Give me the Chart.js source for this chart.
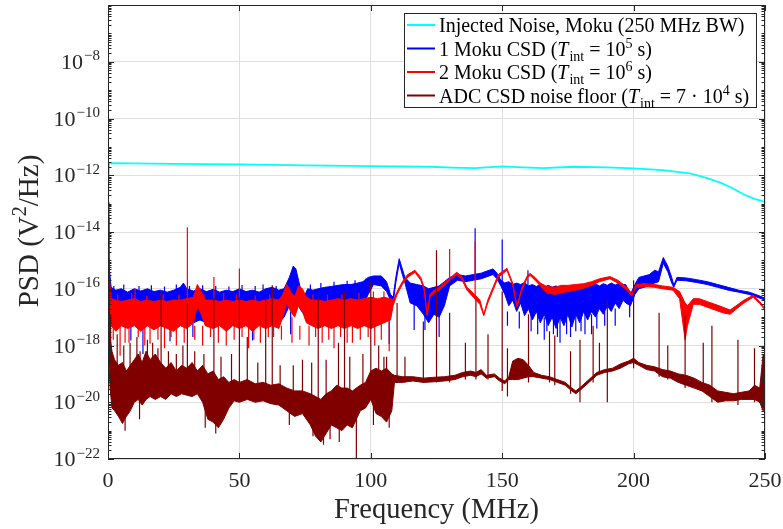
<!DOCTYPE html>
<html><head><meta charset="utf-8">
<script src="https://cdn.jsdelivr.net/npm/chart.js@4.4.1/dist/chart.umd.min.js"></script>
<style>html,body{margin:0;padding:0;background:#fff}#wrap{width:783px;height:529px;position:relative}</style>
</head><body><div id="wrap"><canvas id="c"></canvas></div>
<script>
// ---------- axis ticks ----------
const xTickValues = [0, 50, 100, 150, 200, 250];
const yGridExps = [-22, -20, -18, -16, -14, -12, -10, -8, -6];
const yLabelExps = [-22, -20, -18, -16, -14, -12, -10, -8];

// ---------- series names ----------
const seriesNames = [
  'Injected Noise, Moku (250 MHz BW)',
  '1 Moku CSD (*T*_{int} = 10^{5} s)',
  '2 Moku CSD (*T*_{int} = 10^{6} s)',
  'ADC CSD noise floor (*T*_{int} = 7 \u00b7 10^{4} s)'
];

// All PSD values below are log10(PSD / (V^2/Hz)).
// ---------- Injected noise (cyan) ----------
const cyanFreq = [0, 0.4, 25, 50, 75, 100, 122.5, 131, 139.6, 149.8, 158, 165.6, 177, 190, 200, 211, 221.5, 228, 233, 237.5, 241.6, 246, 250];
const cyanLog  = [-12.95, -11.57, -11.60, -11.62, -11.65, -11.68, -11.70, -11.73, -11.75, -11.69, -11.72, -11.75, -11.70, -11.72, -11.76, -11.82, -11.93, -12.10, -12.26, -12.45, -12.66, -12.83, -12.94];

// ---------- 1 Moku CSD (blue): upper / lower envelope of the noisy trace ----------
const blueFreq = [0,0.5,1.2,3,5,7.5,10,12.5,15,17.5,20,22.5,25,27.5,28.7,30,32.5,35,37.5,40,42.5,45,47.5,50,52.5,55,57.5,60,62.5,65,67,69,70.5,71.5,73,74.5,76,78,80,82.5,85,87.5,90,92.5,95,97,99,101,104,106,107.5,108.5,109.5,110.8,112,113,115,117.5,120,122,124,126,128,130,133,136,139,142,145,146.5,148,149.5,
  151,152.5,154,155.5,157,158.5,160,161.5,163,164.5,166,167.5,169,170.5,172,173.5,175,176.5,178,179.5,181,182.5,184,185.5,187,188.5,190,191.5,193,194.5,196,197,
  198.8,200.5,202,204,206,208,209.5,211.3,213,214.5,215.3,216.5,220,224,228,232,236,240,244,247,250];
const blueHiLog = [-14.4,-15.3,-15.95,-16.05,-16.0,-16.12,-16.0,-16.08,-16.0,-16.1,-16.05,-16.12,-16.05,-15.95,-15.8,-16.0,-16.08,-16.0,-16.1,-16.02,-16.12,-16.05,-16.1,-16.0,-16.1,-16.05,-16.12,-16.0,-15.95,-16.05,-16.0,-15.6,-15.2,-15.3,-15.9,-16.3,-16.0,-16.05,-16.0,-15.95,-15.92,-15.88,-15.85,-15.85,-15.8,-15.75,-15.6,-15.55,-15.55,-15.75,-16.2,-16.3,-15.6,-14.94,-15.3,-15.6,-15.8,-15.85,-15.9,-16.0,-15.95,-15.9,-15.75,-15.6,-15.5,-15.55,-15.5,-15.45,-15.35,-15.3,-15.45,-15.7,
  -15.8,-15.75,-15.85,-15.8,-15.85,-15.78,-15.9,-15.85,-15.92,-15.85,-15.95,-15.88,-15.95,-15.9,-15.97,-15.9,-15.95,-15.88,-15.93,-15.86,-15.92,-15.85,-15.9,-15.83,-15.9,-15.82,-15.88,-15.8,-15.87,-15.8,-15.85,-15.85,
  -16.2,-15.85,-15.6,-15.55,-15.5,-15.35,-15.4,-14.9,-15.2,-15.6,-15.88,-15.6,-15.62,-15.68,-15.75,-15.85,-15.95,-16.05,-16.12,-16.22,-16.33];
const blueLoLog = [-14.6,-16.6,-17.0,-17.1,-17.2,-17.0,-17.2,-17.1,-17.3,-17.1,-17.2,-17.1,-17.2,-17.0,-16.9,-17.1,-17.2,-17.1,-17.2,-17.0,-17.2,-17.1,-17.2,-17.1,-17.2,-17.0,-17.2,-17.1,-17.0,-17.2,-17.0,-16.6,-16.2,-16.3,-16.7,-16.9,-17.0,-17.1,-17.2,-17.0,-17.1,-17.0,-17.1,-17.0,-16.9,-16.6,-16.2,-15.85,-15.9,-16.1,-16.4,-16.5,-15.8,-15.1,-15.5,-15.8,-16.5,-16.6,-16.9,-17.2,-16.9,-17.0,-16.6,-15.9,-15.7,-15.75,-15.7,-15.65,-15.55,-15.5,-15.65,-15.9,
  -16.2,-16.6,-16.4,-16.8,-16.5,-16.95,-16.7,-17.1,-16.8,-17.2,-16.9,-17.3,-17.0,-17.4,-17.0,-17.3,-16.9,-17.35,-16.9,-17.2,-16.8,-17.1,-16.8,-17.0,-16.7,-16.9,-16.6,-16.8,-16.5,-16.7,-16.4,-16.5,
  -16.6,-16.2,-16.0,-15.95,-15.9,-15.8,-15.75,-15.1,-15.4,-15.8,-15.95,-15.7,-15.72,-15.78,-15.85,-15.95,-16.05,-16.12,-16.2,-16.3,-16.4];
const blueSpikeFreq = [2.2, 6, 8.7, 11.8, 13.3, 16.5, 21.5, 23.6, 26, 31, 32.3, 36, 41, 46, 51, 55, 56, 59, 64, 69.5, 77, 81, 86, 91, 94, 98,
  107, 116.5, 120.6, 126, 139.7, 150, 152, 156.5, 159.8, 161, 163.5, 166, 167, 169.5, 171, 172, 174.5, 176, 178, 180, 181.5, 184, 186, 189, 193, 198.5];
const blueSpikeLo   = [-16.2, -16.2, -17.82, -16.2, -18.3, -16.2, -16.2, -17.85, -16.2, -16.2, -17.7, -16.2, -16.2, -16.2, -16.2, -17.82, -16.2, -16.2, -16.2, -17.6, -16.2, -16.2, -16.1, -16.1, -16.1, -16.0,
  -17.95, -17.45, -17.45, -17.7, -15.6, -15.8, -17.3, -17.4, -16.0, -17.5, -17.6, -17.8, -17.5, -17.6, -17.7, -17.9, -17.6, -17.7, -17.5, -17.5, -17.6, -17.6, -17.4, -17.3, -17.3, -17.0];
const blueSpikeHi   = [-15.9, -15.85, -17.0, -15.9, -17.0, -15.88, -15.92, -17.0, -15.85, -15.9, -17.0, -15.88, -15.9, -15.92, -15.87, -17.0, -15.9, -15.85, -15.9, -16.8, -15.85, -15.8, -15.75, -15.72, -15.7, -15.65,
  -16.5, -16.5, -16.9, -16.9, -13.87, -14.26, -16.8, -16.8, -15.35, -16.8, -16.9, -17.0, -16.9, -17.0, -16.9, -17.0, -16.9, -17.0, -16.9, -16.9, -16.8, -16.9, -16.8, -16.8, -16.7, -16.5];

// ---------- 2 Moku CSD (red) ----------
const redFreq = [0,0.4,1.2,3,5,7.5,10,12.5,15,17.5,20,22.5,25,27.5,30,32.5,34,35.5,37,40,42.5,45,47.5,50,52.5,55,57.5,60,62.5,65,66.5,68,69.5,71,72.5,74,75.5,77.5,80,82.5,85,87.5,90,92.5,95,97.5,100,102.5,105,107.5,108.5,110,112,114,116.8,119,120.3,121.4,122.5,124,126,128.5,131,132.7,134.5,136.6,139,141.5,143,144.5,146.5,148.5,151.8,154,155.6,157.5,159.5,160.6,162.5,164.5,167,170,172.5,175,178,181,184,187,191,194,197.5,199.3,201,204,208,211,215,217.5,219.6,220.5,222.7,225,228,231,234,236.7,239,242,245.5,248,250];
const redHiLog = [-13.3,-15.5,-16.35,-16.4,-16.45,-16.4,-16.35,-16.45,-16.4,-16.45,-16.4,-16.45,-16.4,-16.4,-16.35,-16.3,-15.85,-16.1,-16.4,-16.4,-16.45,-16.4,-16.45,-16.4,-16.45,-16.4,-16.45,-16.4,-16.35,-16.4,-16.2,-15.85,-16.1,-16.3,-15.9,-16.0,-16.3,-16.4,-16.4,-16.45,-16.4,-16.35,-16.4,-16.35,-16.4,-16.35,-16.3,-16.35,-16.3,-16.35,-16.4,-16.1,-15.75,-15.5,-15.35,-15.6,-15.95,-16.9,-16.2,-16.05,-15.95,-15.75,-15.55,-15.42,-15.55,-15.95,-16.15,-16.4,-16.9,-16.4,-15.95,-15.5,-15.28,-15.8,-16.6,-15.95,-15.55,-15.46,-15.6,-15.8,-15.92,-15.95,-15.88,-15.88,-15.85,-15.82,-15.75,-15.65,-15.57,-15.7,-15.95,-16.17,-15.85,-15.82,-15.85,-15.9,-15.95,-16.1,-16.5,-16.6,-16.35,-16.35,-16.45,-16.55,-16.65,-16.75,-16.6,-16.4,-16.23,-16.45,-16.7];
const redLoLog = [-14.5,-17.0,-17.3,-17.5,-17.3,-17.4,-17.3,-17.5,-17.3,-17.45,-17.3,-17.4,-17.5,-17.3,-17.4,-17.2,-16.6,-16.9,-17.3,-17.4,-17.3,-17.5,-17.3,-17.4,-17.3,-17.5,-17.3,-17.4,-17.3,-17.4,-17.0,-16.5,-16.8,-17.0,-16.6,-16.8,-17.2,-17.3,-17.4,-17.3,-17.4,-17.3,-17.4,-17.3,-17.4,-17.3,-17.4,-17.3,-17.2,-17.1,-16.6,-16.2,-15.85,-15.6,-15.42,-15.7,-16.05,-16.95,-16.3,-16.15,-16.05,-15.85,-15.62,-15.5,-15.65,-16.05,-16.3,-16.55,-16.95,-16.5,-16.05,-15.6,-15.35,-15.88,-16.65,-16.05,-15.62,-15.53,-15.7,-15.9,-16.15,-16.2,-16.15,-16.1,-16.05,-15.98,-15.88,-15.75,-15.65,-15.8,-16.05,-16.25,-15.95,-15.92,-15.95,-16.0,-16.05,-16.35,-17.8,-17.3,-16.55,-16.55,-16.65,-16.75,-16.85,-16.9,-16.72,-16.5,-16.3,-16.52,-16.75];
const redSpikeFreq = [2, 3.7, 4.6, 6.5, 8, 9, 10.3, 11.5, 14, 14.8, 16, 19, 21, 21.5, 24, 26, 27, 29, 30.2, 33, 36, 36.5, 39, 40.3, 42, 44, 45, 48, 48.8, 50, 51, 53.5, 55.5, 56, 58, 61, 61.5, 63, 66, 67, 70, 73, 76.5, 78, 79, 81.5, 83.5, 84, 86, 88.5, 89, 91, 93, 95.5, 96, 99, 101, 101.5, 104, 105, 107, 130, 139.7];
const redSpikeLo   = [-17.8, -16.5, -18.36, -17.9, -17.9, -16.5, -16.4, -17.7, -18.0, -16.5, -17.94, -17.8, -16.5, -18.1, -17.7, -18.0, -16.5, -17.9, -16.4, -17.8, -18.0, -16.5, -17.7, -16.4, -17.9, -16.5, -18.0, -17.8, -16.5, -16.4, -17.7, -18.1, -17.8, -16.5, -17.9, -17.7, -16.5, -17.7, -17.8, -16.5, -17.9, -17.8, -18.0, -16.5, -17.7, -17.9, -16.5, -17.8, -18.1, -17.7, -16.5, -17.9, -17.9, -16.5, -17.8, -17.7, -16.5, -18.0, -17.8, -16.5, -18.2, -15.6, -16.3];
const redSpikeHi   = [-17.3, -16.2, -17.3, -17.3, -17.3, -16.15, -16.0, -17.3, -17.3, -16.25, -17.3, -17.3, -16.2, -17.3, -17.3, -17.3, -16.2, -17.3, -13.83, -17.3, -17.3, -16.2, -17.3, -15.59, -17.3, -16.15, -17.3, -17.3, -16.2, -15.29, -17.3, -17.3, -17.3, -16.25, -17.3, -17.3, -16.2, -17.3, -17.3, -16.15, -17.0, -17.3, -17.3, -16.2, -17.3, -17.3, -16.2, -17.3, -17.3, -17.3, -16.2, -17.3, -17.3, -16.15, -17.3, -17.3, -16.1, -17.3, -17.2, -16.1, -17.1, -14.6, -14.35];

// ---------- ADC CSD noise floor (dark red) ----------
const adcFreq = [0,0.3,0.8,1.5,2.5,4,5.5,7,8.5,10,11.5,13,14.5,16,18,20,22,24,26,28,30,32,34,36,38,40,42,44,46,48,50,53,56,59,62,65,68,71,74,77,79,81,83,85,87,89,91,93,96,98,100,102,104,106,108,109,112,116,120,124,128,132,135,138,140,142,144,147,149,151,152.5,154,156,158,160,162,165,168,171,174,176.5,178,180,183,186,189,192,195,198,200,202,205,208,211,214,217,220,223,226,229,232,235,238,241,244,246,248,249.3,250];
const adcHiLog = [-12.95,-16.0,-17.7,-18.2,-18.5,-18.7,-18.6,-18.9,-18.7,-18.5,-18.3,-18.6,-18.2,-18.5,-18.3,-18.6,-18.8,-18.6,-18.9,-18.7,-18.8,-18.6,-18.9,-18.7,-19.0,-18.9,-19.2,-19.1,-19.3,-19.2,-19.3,-19.2,-19.35,-19.3,-19.4,-19.35,-19.5,-19.6,-19.6,-19.7,-19.8,-19.9,-19.7,-19.6,-19.4,-19.5,-19.5,-19.6,-19.4,-19.3,-18.9,-18.8,-18.9,-18.8,-19.0,-19.05,-19.1,-19.1,-19.15,-19.12,-19.1,-19.05,-18.95,-18.9,-18.95,-18.85,-19.05,-19.0,-19.15,-19.25,-19.1,-18.55,-18.45,-18.5,-18.7,-18.95,-19.05,-19.1,-19.2,-19.3,-19.5,-19.6,-19.45,-19.2,-18.95,-18.85,-18.8,-18.65,-18.55,-18.45,-18.6,-18.7,-18.75,-18.85,-18.9,-19.0,-19.05,-19.15,-19.3,-19.4,-19.6,-19.65,-19.7,-19.65,-19.6,-19.4,-19.5,-18.3,-18.7];
const adcLoLog = [-13.5,-18.5,-19.5,-20.2,-20.3,-20.5,-20.75,-20.5,-20.3,-20.0,-19.9,-20.1,-19.9,-19.8,-19.9,-19.8,-19.9,-19.7,-19.8,-19.7,-19.75,-19.8,-19.7,-20.0,-20.6,-20.7,-20.9,-20.6,-20.2,-19.95,-20.0,-19.9,-20.0,-19.95,-20.05,-20.1,-20.3,-20.5,-20.4,-20.8,-21.2,-21.4,-21.1,-20.8,-20.9,-21.0,-20.8,-20.9,-20.3,-20.2,-19.9,-20.4,-20.5,-20.7,-20.3,-19.3,-19.3,-19.25,-19.3,-19.28,-19.25,-19.2,-19.1,-19.05,-19.1,-19.0,-19.15,-19.1,-19.25,-19.35,-19.2,-19.2,-19.2,-19.15,-19.1,-19.1,-19.15,-19.2,-19.3,-19.4,-19.6,-19.7,-19.55,-19.3,-19.05,-18.95,-18.9,-18.8,-18.65,-18.6,-18.7,-18.85,-18.9,-19.1,-19.15,-19.3,-19.4,-19.5,-19.6,-19.8,-20.0,-19.95,-19.95,-19.9,-19.9,-19.9,-20.0,-20.3,-19.5];
const adcSpikeFreq = [1.0, 3.5, 6, 6.5, 8.4, 11, 12, 12.2, 15, 17, 19, 20.2, 23, 26, 28.5, 30.2, 33, 36.5, 37, 40.3, 41, 43, 47, 50, 53, 57, 60, 62.5, 65.5, 69, 70.5, 74, 77.5, 78, 80, 82, 83, 84.5, 87.7, 88, 90, 92, 94.5, 97, 100, 101, 103, 105, 106, 107, 110, 113, 120, 125, 130, 136, 140, 144.6, 150, 152, 160, 168, 170, 176, 179.6, 184.6, 187, 190, 200, 209.7, 213, 219.6, 226.5, 229.8, 239.7, 246];
const adcSpikeLo   = [-19.5, -19.5, -19.6, -21.0, -19.5, -19.5, -20.6, -19.4, -19.3, -19.4, -19.4, -19.5, -19.5, -19.5, -19.5, -19.5, -19.5, -19.6, -20.9, -19.8, -21.1, -19.8, -19.7, -19.9, -19.6, -19.8, -19.8, -19.8, -19.9, -20.8, -20.0, -20.1, -20.2, -21.2, -20.5, -21.5, -20.3, -21.3, -20.0, -21.4, -20.2, -20.2, -22.0, -19.9, -19.6, -20.8, -19.6, -19.7, -19.5, -20.9, -19.3, -19.3, -19.3, -19.3, -19.3, -19.2, -19.2, -19.2, -19.6, -19.8, -19.3, -19.3, -19.4, -19.7, -20.0, -19.3, -19.0, -20.0, -18.8, -19.1, -19.2, -19.5, -19.6, -20.0, -20.1, -20.0];
const adcSpikeHi   = [-16.9, -17.6, -18.0, -20.0, -17.9, -17.7, -19.8, -18.2, -17.8, -17.9, -18.1, -16.12, -18.2, -18.3, -18.0, -16.5, -18.2, -18.3, -19.8, -16.3, -20.0, -18.4, -18.3, -16.3, -17.7, -18.6, -16.3, -15.88, -18.7, -20.0, -18.7, -18.5, -18.6, -20.3, -16.3, -20.5, -18.5, -20.3, -17.9, -20.4, -16.12, -18.4, -19.6, -18.3, -15.76, -19.9, -18.0, -18.4, -18.4, -20.0, -16.5, -18.4, -17.15, -14.64, -16.85, -17.9, -16.4, -17.6, -16.1, -18.1, -16.9, -17.5, -17.65, -18.2, -17.8, -17.3, -17.9, -16.38, -15.7, -16.85, -18.0, -16.95, -17.9, -17.3, -17.8, -18.1];

// ---------- styles ----------
const CYAN = '#00ffff', BLUE = '#0000ff', RED = '#ff0000', ADC = '#800000';
const AXIS = '#262626', GRID = '#dfdfdf';
const SERIF = "'Liberation Serif', 'Times New Roman', serif";

function line(fs, ls) { return fs.map((f, i) => ({ x: f, y: 10 ** ls[i] })); }
function spikes(fs, lo, hi) {
  const out = [];
  fs.forEach((f, i) => { out.push({ x: f, y: 10 ** lo[i] }, { x: f, y: 10 ** hi[i] }, { x: f, y: null }); });
  return out;
}
function band(color, idxLo, order, fs, hi, lo, sf, slo, shi) {
  return [
    { data: line(fs, lo), borderColor: color, borderWidth: 1, fill: false, order: order + 2 },
    { data: line(fs, hi), borderColor: color, backgroundColor: color, borderWidth: 1, fill: idxLo, order: order + 1 },
    { data: spikes(sf, slo, shi), borderColor: color, borderWidth: 1.2, fill: false, spanGaps: false, order: order }
  ];
}

const datasets = [
  { data: line(cyanFreq, cyanLog), borderColor: CYAN, borderWidth: 1.8, fill: false, order: 100 },
  ...band(BLUE, 1, 80, blueFreq, blueHiLog, blueLoLog, blueSpikeFreq, blueSpikeLo, blueSpikeHi),
  ...band(RED, 4, 60, redFreq, redHiLog, redLoLog, redSpikeFreq, redSpikeLo, redSpikeHi),
  ...band(ADC, 7, 40, adcFreq, adcHiLog, adcLoLog, adcSpikeFreq, adcSpikeLo, adcSpikeHi)
];
const legendColors = [CYAN, BLUE, RED, ADC];

// ---------- rich text helper ----------
function parseRich(s) {
  return s.split(/(\*[^*]+\*|_\{[^}]+\}|\^\{[^}]+\})/).filter(t => t).map(t => {
    if (t[0] === '*') return { t: t.slice(1, -1), k: 'it' };
    if (t[0] === '_') return { t: t.slice(2, -1), k: 'sub' };
    if (t[0] === '^') return { t: t.slice(2, -1), k: 'sup' };
    return { t, k: 'n' };
  });
}
function richFont(k, size) {
  const s = (k === 'sub' || k === 'sup') ? Math.round(size * 0.7) : size;
  return (k === 'it' ? 'italic ' : '') + s + 'px ' + SERIF;
}
function richWidth(ctx, parts, size) {
  let w = 0;
  parts.forEach(p => { ctx.font = richFont(p.k, size); w += ctx.measureText(p.t).width + (p.k === 'it' ? 1 : 0); });
  return w;
}
function drawRich(ctx, parts, x, y, size) {
  parts.forEach(p => {
    ctx.font = richFont(p.k, size);
    const dy = p.k === 'sub' ? size * 0.25 : (p.k === 'sup' ? -size * 0.4 : 0);
    ctx.fillText(p.t, x, y + dy);
    x += ctx.measureText(p.t).width + (p.k === 'it' ? 1 : 0);
  });
}

const framePlugin = {
  id: 'frame',
  afterDraw(chart) {
    const ctx = chart.ctx, a = chart.chartArea;
    const xs = chart.scales.x, ys = chart.scales.y;
    ctx.save();
    ctx.strokeStyle = AXIS; ctx.fillStyle = AXIS; ctx.lineWidth = 1;
    // box
    ctx.strokeRect(Math.round(a.left) + 0.5, Math.round(a.top) + 0.5, Math.round(a.right - a.left) - 1, Math.round(a.bottom - a.top) - 1);
    ctx.beginPath();
    // x ticks (inward, top & bottom)
    xTickValues.forEach(v => {
      const px = Math.round(xs.getPixelForValue(v)) + 0.5;
      ctx.moveTo(px, a.bottom); ctx.lineTo(px, a.bottom - 6);
      ctx.moveTo(px, a.top); ctx.lineTo(px, a.top + 6);
    });
    // y major & minor ticks
    for (let e = yGridExps[0]; e < yGridExps[yGridExps.length - 1]; e++) {
      for (let m = 1; m <= 9; m++) {
        const py = Math.round(ys.getPixelForValue(m * 10 ** e)) + 0.5;
        const len = (m === 1 && yGridExps.includes(e)) ? 6 : 3.5;
        ctx.moveTo(a.left, py); ctx.lineTo(a.left + len, py);
        ctx.moveTo(a.right, py); ctx.lineTo(a.right - len, py);
      }
    }
    ctx.stroke();
    // x tick labels
    ctx.textBaseline = 'alphabetic'; ctx.textAlign = 'center';
    ctx.font = '22px ' + SERIF;
    xTickValues.forEach(v => { ctx.fillText(String(v), xs.getPixelForValue(v), a.bottom + 28); });
    // y tick labels 10^e
    ctx.textAlign = 'left';
    yLabelExps.forEach(e => {
      const py = ys.getPixelForValue(10 ** e);
      const sup = '\u2212' + Math.abs(e);
      ctx.font = '15px ' + SERIF; const wS = ctx.measureText(sup).width;
      ctx.font = '22px ' + SERIF; const wB = ctx.measureText('10').width;
      const xr = a.left - 8;
      ctx.fillText('10', xr - wS - wB - 1, py + 7);
      ctx.font = '15px ' + SERIF;
      ctx.fillText(sup, xr - wS, py - 1.5);
    });
    // axis titles
    ctx.font = '28.5px ' + SERIF; ctx.textAlign = 'center';
    ctx.fillText('Frequency (MHz)', (a.left + a.right) / 2, 518);
    ctx.textAlign = 'left';
    const yt = parseRich('PSD (V^{2}/Hz)');
    ctx.save();
    ctx.translate(28, 231);
    ctx.rotate(-Math.PI / 2);
    const wt = richWidth(ctx, yt, 29);
    drawRich(ctx, yt, -wt / 2, 9.5, 29);
    ctx.restore();
    // legend
    const W = 353, H = 95, L = a.right - 8 - W, T = a.top + 8;
    ctx.fillStyle = '#fff'; ctx.fillRect(L, T, W, H);
    ctx.strokeStyle = AXIS; ctx.lineWidth = 1;
    ctx.strokeRect(L + 0.5, T + 0.5, W - 1, H - 1);
    seriesNames.forEach((name, i) => {
      const cy = T + 12 + i * 23.5;
      ctx.strokeStyle = legendColors[i]; ctx.lineWidth = 2;
      ctx.beginPath(); ctx.moveTo(L + 3, cy); ctx.lineTo(L + 31, cy); ctx.stroke();
      ctx.fillStyle = '#000';
      drawRich(ctx, parseRich(name), L + 35, cy + 7, 20);
    });
    ctx.restore();
  }
};

new Chart(document.getElementById('c'), {
  type: 'line',
  data: { datasets },
  options: {
    responsive: true, maintainAspectRatio: false, animation: false, events: [],
    layout: { padding: { left: 0, right: 18, top: 5, bottom: 0 } },
    elements: { point: { radius: 0 }, line: { tension: 0 } },
    plugins: { legend: { display: false }, tooltip: { enabled: false }, filler: { propagate: false } },
    scales: {
      x: {
        type: 'linear', min: 0, max: 250,
        afterBuildTicks: s => { s.ticks = xTickValues.map(v => ({ value: v })); },
        afterFit: s => { s.height = 70; },
        grid: { color: GRID, drawTicks: false },
        border: { display: false },
        ticks: { display: false }
      },
      y: {
        type: 'logarithmic', min: 1e-22, max: 1e-6,
        afterBuildTicks: s => { s.ticks = yGridExps.map(e => ({ value: 10 ** e })); },
        afterFit: s => { s.width = 108; },
        grid: { color: GRID, drawTicks: false },
        border: { display: false },
        ticks: { display: false }
      }
    }
  },
  plugins: [framePlugin]
});
</script></body></html>
